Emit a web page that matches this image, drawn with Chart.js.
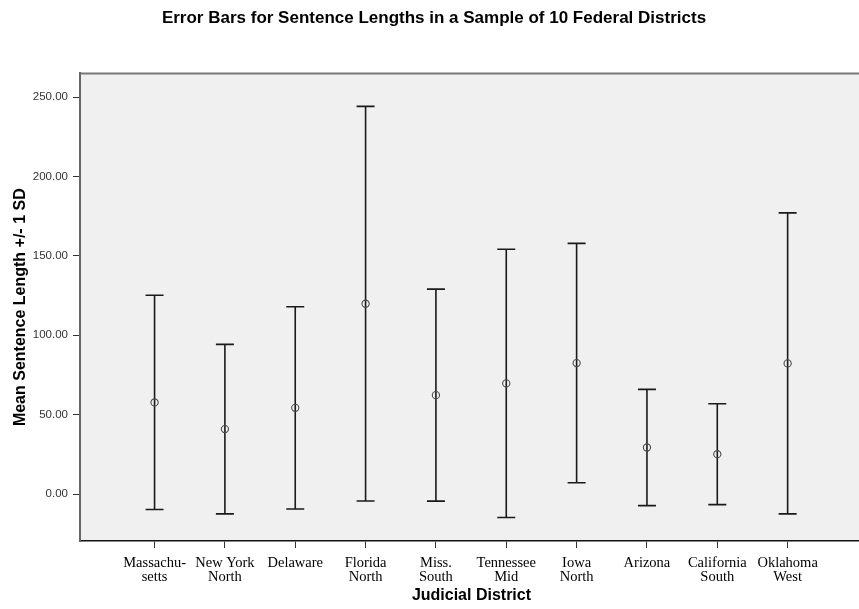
<!DOCTYPE html>
<html>
<head>
<meta charset="utf-8">
<script src="https://cdn.jsdelivr.net/npm/chart.js@4/dist/chart.umd.min.js"></script>
<style>
  html, body { margin: 0; padding: 0; background: #fff; overflow: hidden; }
  #wrap { width: 859px; height: 609px; overflow: hidden; }
  canvas { display: block; }
</style>
</head>
<body>
<div id="wrap"><canvas id="c" width="868" height="609" style="width:868px;height:609px"></canvas></div>
<script>
// Judicial districts (x axis), one label line per array entry
const districts = [
  ['Massachu-', 'setts'],
  ['New York', 'North'],
  ['Delaware'],
  ['Florida', 'North'],
  ['Miss.', 'South'],
  ['Tennessee', 'Mid'],
  ['Iowa', 'North'],
  ['Arizona'],
  ['California', 'South'],
  ['Oklahoma', 'West']
];

// Mean sentence length per district
const meanLength = [57.7, 40.9, 54.3, 119.9, 62.3, 69.7, 82.5, 29.3, 25.1, 82.3];

// One standard deviation per district
const sdLength = [67.5, 53.4, 63.7, 124.3, 66.8, 84.5, 75.4, 36.6, 31.8, 94.8];

// Y axis tick values
const yTicks = [0, 50, 100, 150, 200, 250];

const points = meanLength.map((m, i) => ({ x: i, y: m }));

// Plot background and top frame line
const plotFrame = {
  id: 'plotFrame',
  beforeDraw(chart) {
    const { ctx, chartArea: a } = chart;
    ctx.save();
    ctx.fillStyle = '#f0f0f0';
    ctx.fillRect(a.left, a.top, a.right - a.left, a.bottom - a.top);
    ctx.strokeStyle = '#777';
    ctx.lineWidth = 2;
    ctx.beginPath();
    ctx.moveTo(a.left, a.top);
    ctx.lineTo(a.right, a.top);
    ctx.stroke();
    ctx.restore();
  }
};

// Whiskers at mean ± 1 SD with end caps
const errorBars = {
  id: 'errorBars',
  beforeDatasetsDraw(chart) {
    const { ctx, scales: { x, y } } = chart;
    ctx.save();
    ctx.strokeStyle = '#1a1a1a';
    ctx.lineWidth = 1.6;
    const cap = 9;
    meanLength.forEach((m, i) => {
      const px = x.getPixelForValue(i);
      const hi = y.getPixelForValue(m + sdLength[i]);
      const lo = y.getPixelForValue(m - sdLength[i]);
      ctx.beginPath();
      ctx.moveTo(px, hi);
      ctx.lineTo(px, lo);
      ctx.moveTo(px - cap, hi);
      ctx.lineTo(px + cap, hi);
      ctx.moveTo(px - cap, lo);
      ctx.lineTo(px + cap, lo);
      ctx.stroke();
    });
    ctx.restore();
  }
};

new Chart(document.getElementById('c'), {
  type: 'scatter',
  data: {
    datasets: [{
      data: points,
      pointStyle: 'circle',
      pointRadius: 3.6,
      pointBorderWidth: 1.1,
      pointBorderColor: '#4a4a4a',
      pointBackgroundColor: 'rgba(0,0,0,0)',
      showLine: false
    }]
  },
  options: {
    responsive: false,
    animation: false,
    devicePixelRatio: 1,
    layout: { padding: 0 },
    plugins: {
      legend: { display: false },
      tooltip: { enabled: false },
      title: {
        display: true,
        text: 'Error Bars for Sentence Lengths in a Sample of 10 Federal Districts',
        color: '#000',
        font: { family: 'Liberation Sans, Arial, sans-serif', size: 17, weight: 'bold', lineHeight: 1.2 },
        padding: { top: 8, bottom: 45 }
      }
    },
    scales: {
      x: {
        type: 'linear',
        min: -1.06,
        max: 10.07,
        afterBuildTicks(scale) {
          scale.ticks = districts.map((_, i) => ({ value: i }));
        },
        afterFit(scale) { scale.height = 68; },
        ticks: {
          autoSkip: false,
          maxRotation: 0,
          padding: 8,
          color: '#000',
          font: { family: 'Liberation Serif, Times New Roman, serif', size: 14.5, lineHeight: 0.97 },
          callback: (v) => districts[v]
        },
        grid: { drawOnChartArea: false, drawTicks: true, tickLength: 7, tickColor: '#333', tickWidth: 1 },
        border: { color: '#111', width: 1.6 },
        title: {
          display: true,
          text: 'Judicial District',
          color: '#000',
          font: { family: 'Liberation Sans, Arial, sans-serif', size: 16, weight: 'bold', lineHeight: 1.2 },
          padding: { top: 0, bottom: 3.5 }
        }
      },
      y: {
        type: 'linear',
        min: -29.6,
        max: 265,
        afterBuildTicks(scale) {
          scale.ticks = yTicks.map(v => ({ value: v }));
        },
        afterFit(scale) { scale.width = 80; },
        ticks: {
          padding: 5,
          color: '#333',
          font: { family: 'Liberation Sans, Arial, sans-serif', size: 11.5 },
          callback: (v) => Number(v).toFixed(2)
        },
        grid: { drawOnChartArea: false, drawTicks: true, tickLength: 7, tickColor: '#333', tickWidth: 1 },
        border: { color: '#666', width: 2 },
        title: {
          display: true,
          text: 'Mean Sentence Length +/- 1 SD',
          color: '#000',
          font: { family: 'Liberation Sans, Arial, sans-serif', size: 16, weight: 'bold', lineHeight: 1.2 },
          padding: { top: 10.5, bottom: 0 }
        }
      }
    }
  },
  plugins: [plotFrame, errorBars]
});
</script>
</body>
</html>
